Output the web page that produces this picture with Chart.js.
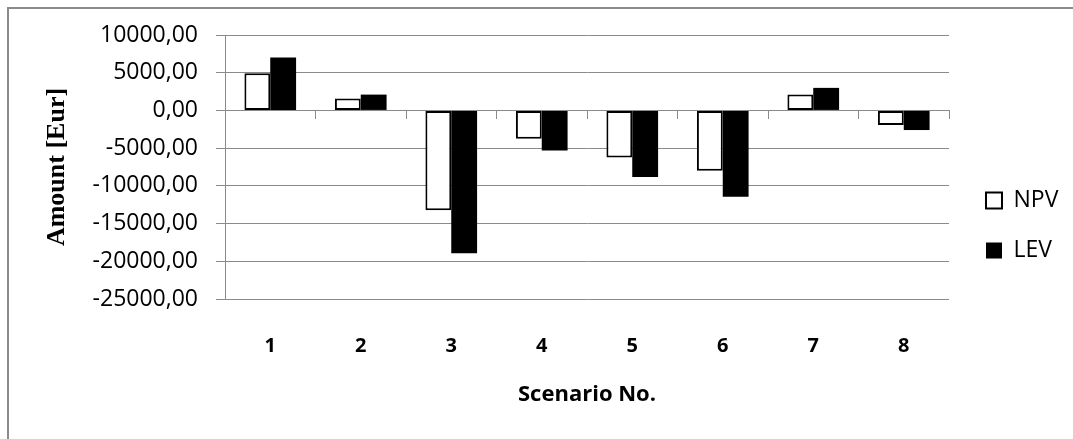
<!DOCTYPE html>
<html>
<head>
<meta charset="utf-8">
<script src="https://cdn.jsdelivr.net/npm/chart.js@4/dist/chart.umd.min.js"></script>
<style>
  html, body { margin: 0; padding: 0; background: #fff; }
  #wrap { width: 1073px; height: 439px; }
</style>
</head>
<body>
<div id="wrap"><canvas id="c" width="1073" height="439"></canvas></div>
<script>
const categories = ['1', '2', '3', '4', '5', '6', '7', '8'];
const npvValues = [4940, 1570, -13250, -3750, -6240, -8010, 2100, -1930];
const levValues = [7030, 2100, -18920, -5300, -8810, -11430, 2990, -2600];
const yMin = -25000;
const yMax = 10000;
const yStep = 5000;

const gridColor = '#8a8a8a';
const sansFont = "'Open Sans', 'Noto Sans', sans-serif";

const framePlugin = {
  id: 'frame',
  beforeDraw(chart) {
    const ctx = chart.ctx;
    ctx.save();
    ctx.fillStyle = '#fff';
    ctx.fillRect(0, 0, chart.width, chart.height);
    ctx.strokeStyle = '#8a8a8a';
    ctx.lineWidth = 2;
    ctx.strokeRect(8, 8, chart.width + 20, chart.height + 20);
    ctx.restore();
  }
};

// Keep the legend box width fixed so the plot area ends where the reference's does
const legendWidth = {
  id: 'legendWidth',
  start(chart) {
    const l = chart.legend;
    if (!l) return;
    const origFit = l.fit.bind(l);
    l.fit = function () { origFit(); this.width = 124; };
  },
  afterLayout(chart) {
    const l = chart.legend;
    if (l) { l.left += 10; l.right += 10; }
  }
};

new Chart(document.getElementById('c'), {
  type: 'bar',
  data: {
    labels: categories,
    datasets: [
      {
        label: 'NPV',
        data: npvValues,
        backgroundColor: '#ffffff',
        borderColor: '#000000',
        borderWidth: 2,
        borderSkipped: false,
        categoryPercentage: 0.571,
        barPercentage: 1.0
      },
      {
        label: 'LEV',
        data: levValues,
        backgroundColor: '#000000',
        borderColor: '#000000',
        borderWidth: 0,
        borderSkipped: false,
        categoryPercentage: 0.571,
        barPercentage: 1.0
      }
    ]
  },
  options: {
    responsive: false,
    animation: false,
    devicePixelRatio: 1,
    layout: { padding: { top: 35, left: 0, right: 0, bottom: 23 } },
    plugins: {
      tooltip: { enabled: false },
      legend: {
        position: 'right',
        labels: {
          color: '#000',
          font: { family: sansFont, size: 23 },
          boxWidth: 16,
          boxHeight: 16,
          padding: 27
        }
      }
    },
    scales: {
      x: {
        type: 'category',
        position: 'bottom',
        afterFit(s) { s.height = 117; },
        grid: { display: false },
        border: { display: false },
        ticks: {
          color: '#000',
          font: { family: sansFont, size: 20, weight: 'bold' },
          padding: 27,
          maxRotation: 0
        },
        title: {
          display: true,
          text: 'Scenario No.',
          color: '#000',
          font: { family: sansFont, size: 22, weight: 'bold' },
          padding: { top: 0, bottom: 8 }
        }
      },
      x2: {
        type: 'category',
        position: { y: 0 },
        offset: true,
        grid: {
          display: true,
          offset: true,
          drawOnChartArea: false,
          drawTicks: true,
          tickLength: 8,
          color: gridColor,
          lineWidth: 1
        },
        border: { display: true, color: gridColor, width: 1 },
        ticks: { display: false }
      },
      y: {
        min: yMin,
        max: yMax,
        afterFit(s) { s.width = 225; },
        ticks: {
          stepSize: yStep,
          color: '#000',
          padding: 18,
          font: { family: sansFont, size: 23 },
          callback: (v) => Number(v).toFixed(2).replace('.', ',')
        },
        grid: { color: gridColor, lineWidth: 1, tickLength: 9 },
        border: { display: true, color: gridColor, width: 1 },
        title: {
          display: true,
          text: 'Amount [Eur]',
          color: '#000',
          font: { family: "'Liberation Serif', 'Times New Roman', serif", size: 26, weight: 'bold' },
          padding: { top: 42, bottom: 0 }
        }
      }
    }
  },
  plugins: [framePlugin, legendWidth]
});
</script>
</body>
</html>
